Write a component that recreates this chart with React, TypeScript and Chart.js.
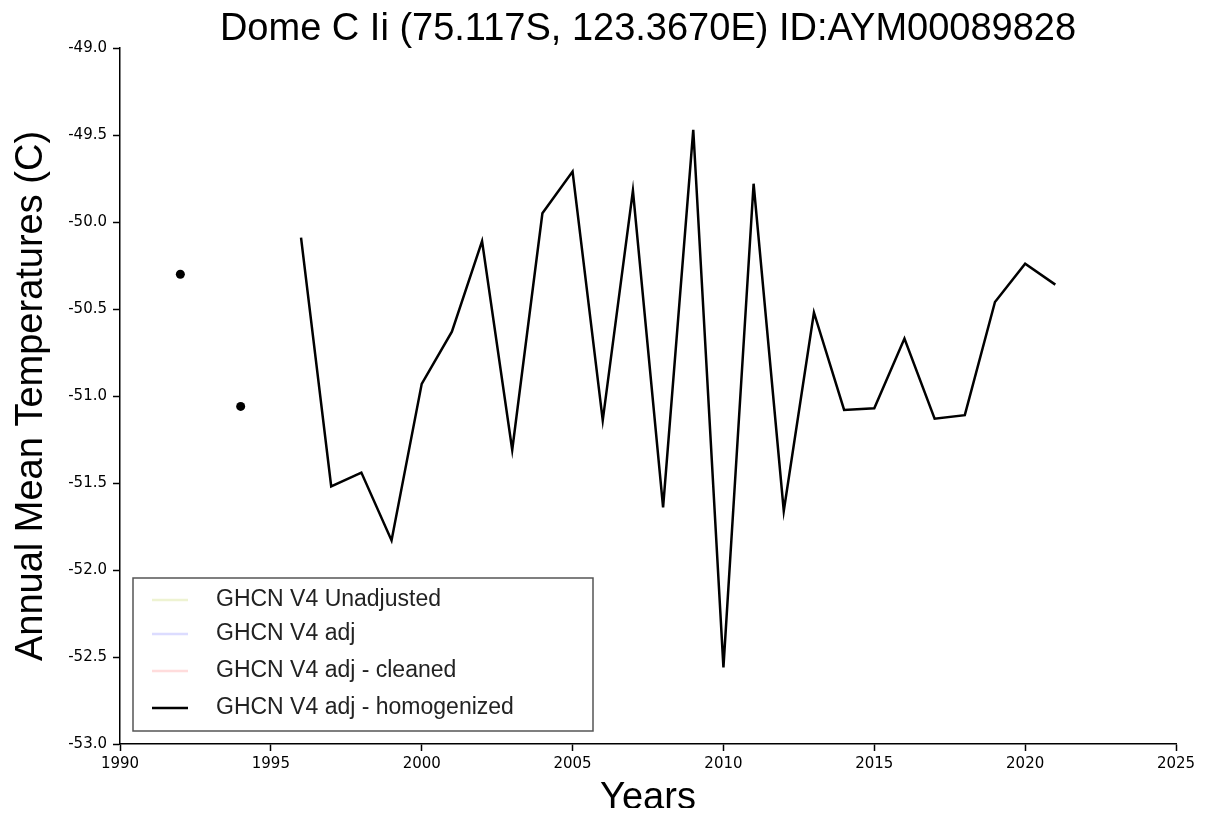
import React, { useEffect, useRef } from "react";
import { Chart, registerables } from "chart.js";

Chart.register(...registerables);

const TITLE = "Dome C Ii (75.117S, 123.3670E) ID:AYM00089828";
const X_TITLE = "Years";
const Y_TITLE = "Annual Mean Temperatures (C)";

const years = [1992, 1993, 1994, 1995, 1996, 1997, 1998, 1999, 2000, 2001, 2002, 2003, 2004, 2005, 2006, 2007, 2008, 2009, 2010, 2011, 2012, 2013, 2014, 2015, 2016, 2017, 2018, 2019, 2020, 2021];
const homogenized: (number | null)[] = [-50.3, null, -51.06, null, -50.09, -51.52, -51.44, -51.83, -50.93, -50.63, -50.11, -51.31, -49.95, -49.71, -51.14, -49.82, -51.64, -49.47, -52.56, -49.78, -51.66, -50.52, -51.08, -51.07, -50.67, -51.13, -51.11, -50.46, -50.24, -50.36];

const seriesNames = ["GHCN V4 Unadjusted", "GHCN V4 adj", "GHCN V4 adj - cleaned", "GHCN V4 adj - homogenized"];
const seriesColors = ["#eef3d2", "#dcdcff", "#ffdcdc", "#000000"];

const FONT = "'Liberation Sans', Arial, sans-serif";
const TICK_FONT = "'DejaVu Sans', Verdana, sans-serif";

export default function App() {
  const ref = useRef<HTMLCanvasElement>(null);
  useEffect(() => {
    if (!ref.current) return;
    const pts = years.map((y, i) => ({ x: y, y: homogenized[i] }));
    const overlay = {
      id: "overlay",
      afterDraw(chart: any) {
        const ctx = chart.ctx;
        const ca = chart.chartArea;
        ctx.save();
        ctx.fillStyle = "#000";
        ctx.textAlign = "center";
        ctx.textBaseline = "middle";
        ctx.font = `38px ${FONT}`;
        ctx.fillText(TITLE, (ca.left + ca.right) / 2, 22);
        ctx.fillText(X_TITLE, (ca.left + ca.right) / 2, 791);
        ctx.save();
        ctx.translate(24, 388);
        ctx.rotate(-Math.PI / 2);
        ctx.font = `38px ${FONT}`;
        ctx.fillText(Y_TITLE, 0, 0);
        ctx.restore();
        // legend box
        const bx = ca.left + 13;
        const bh = 153;
        const bw = 460;
        const by = ca.bottom - 13 - bh;
        ctx.fillStyle = "#fff";
        ctx.fillRect(bx, by, bw, bh);
        ctx.strokeStyle = "#555";
        ctx.lineWidth = 1.5;
        ctx.strokeRect(bx, by, bw, bh);
        const rows = [22, 56, 93, 130];
        ctx.textAlign = "left";
        ctx.font = `23px ${FONT}`;
        seriesNames.forEach((name, i) => {
          const yy = by + rows[i];
          ctx.strokeStyle = seriesColors[i];
          ctx.lineWidth = 2.5;
          ctx.beginPath();
          ctx.moveTo(bx + 19, yy);
          ctx.lineTo(bx + 55, yy);
          ctx.stroke();
          ctx.fillStyle = "#222";
          ctx.fillText(name, bx + 83, yy);
        });
        ctx.restore();
      },
    };
    const chart = new Chart(ref.current, {
      type: "line",
      data: {
        datasets: [
          { label: seriesNames[0], data: [], borderColor: seriesColors[0] },
          { label: seriesNames[1], data: [], borderColor: seriesColors[1] },
          { label: seriesNames[2], data: [], borderColor: seriesColors[2] },
          {
            label: seriesNames[3],
            data: pts as any,
            borderColor: "#000",
            backgroundColor: "#000",
            borderWidth: 2.5,
            spanGaps: false,
            tension: 0,
            pointRadius: (c: any) => {
              const i = c.dataIndex;
              const prev = i > 0 ? homogenized[i - 1] : null;
              const next = i < homogenized.length - 1 ? homogenized[i + 1] : null;
              return prev == null && next == null ? 4.5 : 0;
            },
            pointBorderWidth: 0,
          },
        ],
      },
      options: {
        responsive: false,
        animation: false,
        layout: { padding: { top: 40, right: 27, left: 0, bottom: 0 } },
        plugins: { legend: { display: false }, tooltip: { enabled: false }, title: { display: false } },
        scales: {
          x: {
            type: "linear",
            min: 1990,
            max: 2025,
            ticks: { stepSize: 5, color: "#000", font: { size: 15, family: TICK_FONT }, padding: 4, callback: (v: any) => String(v), maxRotation: 0 },
            grid: { drawOnChartArea: false, tickLength: 7, tickColor: "#000", tickWidth: 1.5 },
            border: { color: "#000", width: 1.5 },
            afterFit: (s: any) => { s.height = 64; },
          },
          y: {
            min: -53,
            max: -49,
            ticks: { stepSize: 0.5, color: "#000", font: { size: 15, family: TICK_FONT }, padding: 6, callback: (v: any) => Number(v).toFixed(1) },
            grid: { drawOnChartArea: false, tickLength: 7, tickColor: "#000", tickWidth: 1.5 },
            border: { color: "#000", width: 1.5 },
            afterFit: (s: any) => { s.width = 112; },
          },
        },
      },
      plugins: [overlay],
    });
    return () => chart.destroy();
  }, []);
  return <canvas ref={ref} width={1195} height={800} style={{ display: "block" }} />;
}
